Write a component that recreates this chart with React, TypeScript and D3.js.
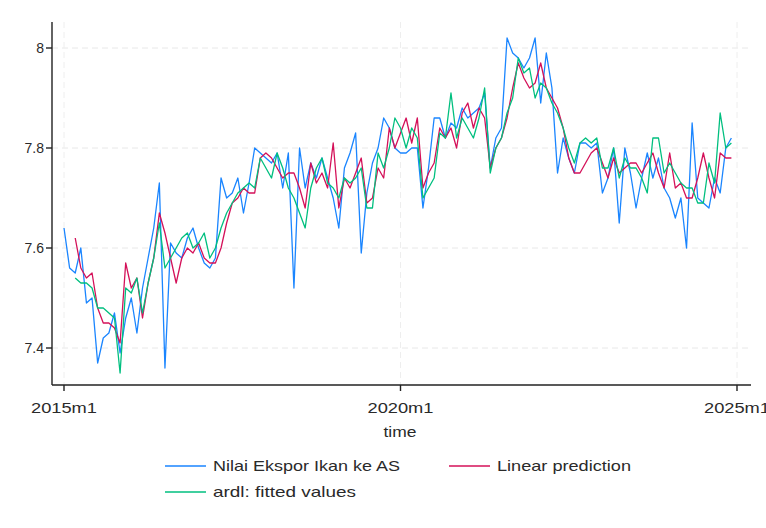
import React from "react";
import * as d3 from "d3";

const months = d3.range(0, 120);
const tickMonths = [0, 60, 120];
const tickLabels = ["2015m1", "2020m1", "2025m1"];
const yTicks = [7.4, 7.6, 7.8, 8];
const yTickLabels = ["7.4", "7.6", "7.8", "8"];

const ekspor = [
  7.64, 7.56, 7.55, 7.60, 7.49, 7.50, 7.37, 7.42, 7.43, 7.47,
  7.39, 7.46, 7.50, 7.43, 7.52, 7.58, 7.64, 7.73, 7.36, 7.61,
  7.59, 7.58, 7.62, 7.64, 7.60, 7.57, 7.56, 7.58, 7.74, 7.70,
  7.71, 7.74, 7.67, 7.73, 7.80, 7.79, 7.78, 7.77, 7.79, 7.72,
  7.79, 7.52, 7.80, 7.72, 7.77, 7.74, 7.78, 7.74, 7.70, 7.64,
  7.76, 7.79, 7.83, 7.59, 7.71, 7.77, 7.80, 7.86, 7.84, 7.80,
  7.79, 7.79, 7.80, 7.80, 7.68, 7.76, 7.86, 7.86, 7.82, 7.85,
  7.84, 7.88, 7.86, 7.87, 7.88, 7.91, 7.76, 7.82, 7.84, 8.02,
  7.99, 7.98, 7.96, 7.98, 8.02, 7.89, 7.99, 7.92, 7.75, 7.82,
  7.78, 7.75, 7.81, 7.81, 7.80, 7.81, 7.71, 7.74, 7.80, 7.65,
  7.80, 7.75, 7.68, 7.74, 7.79, 7.74, 7.78, 7.72, 7.70, 7.66,
  7.70, 7.60, 7.85, 7.70, 7.69, 7.68, 7.74, 7.71, 7.80, 7.82,
];

const linearPred = [
  null, null, 7.62, 7.56, 7.54, 7.55, 7.48, 7.45, 7.45, 7.44,
  7.41, 7.57, 7.52, 7.54, 7.46, 7.53, 7.58, 7.67, 7.63, 7.58,
  7.53, 7.58, 7.60, 7.59, 7.61, 7.58, 7.57, 7.57, 7.60, 7.65,
  7.69, 7.70, 7.72, 7.71, 7.71, 7.78, 7.79, 7.78, 7.76, 7.74,
  7.75, 7.75, 7.72, 7.68, 7.77, 7.73, 7.75, 7.72, 7.81, 7.68,
  7.74, 7.72, 7.75, 7.78, 7.69, 7.70, 7.76, 7.74, 7.84, 7.80,
  7.83, 7.86, 7.81, 7.86, 7.72, 7.75, 7.77, 7.84, 7.82, 7.84,
  7.80, 7.87, 7.89, 7.84, 7.88, 7.86, 7.76, 7.80, 7.82, 7.86,
  7.92, 7.97, 7.94, 7.92, 7.93, 7.97, 7.92, 7.90, 7.88, 7.84,
  7.78, 7.75, 7.75, 7.77, 7.79, 7.80, 7.77, 7.74, 7.78, 7.75,
  7.76, 7.77, 7.77, 7.75, 7.77, 7.79, 7.75, 7.72, 7.79, 7.72,
  7.73, 7.70, 7.70, 7.74, 7.79, 7.74, 7.70, 7.79, 7.78, 7.78,
];

const ardlFitted = [
  null, null, 7.54, 7.53, 7.53, 7.52, 7.48, 7.48, 7.47, 7.46,
  7.35, 7.52, 7.51, 7.54, 7.47, 7.53, 7.58, 7.65, 7.56, 7.58,
  7.60, 7.62, 7.63, 7.60, 7.61, 7.63, 7.58, 7.60, 7.64, 7.67,
  7.69, 7.71, 7.72, 7.73, 7.72, 7.78, 7.76, 7.74, 7.79, 7.76,
  7.72, 7.70, 7.67, 7.64, 7.72, 7.76, 7.78, 7.73, 7.72, 7.70,
  7.74, 7.73, 7.74, 7.76, 7.68, 7.68, 7.79, 7.76, 7.80, 7.86,
  7.84, 7.80, 7.84, 7.82, 7.70, 7.72, 7.74, 7.83, 7.82, 7.91,
  7.82, 7.86, 7.84, 7.82, 7.86, 7.92, 7.75, 7.80, 7.82, 7.87,
  7.90, 7.98, 7.95, 7.96, 7.90, 7.93, 7.92, 7.89, 7.87, 7.84,
  7.80, 7.77, 7.81, 7.82, 7.81, 7.82, 7.76, 7.76, 7.80, 7.74,
  7.78, 7.76, 7.76, 7.74, 7.71, 7.82, 7.82, 7.75, 7.77, 7.75,
  7.73, 7.72, 7.72, 7.69, 7.69, 7.77, 7.73, 7.87, 7.80, 7.81,
];

const seriesNames = ["Nilai Ekspor Ikan ke AS", "Linear prediction", "ardl: fitted values"];
const seriesColors = ["#1a85ff", "#d41159", "#00bf7f"];

const W = 766;
const H = 528;
const FONT = "'Liberation Sans', Arial, Helvetica, sans-serif";

export default function App() {
  const x = d3.scaleLinear().domain([0, 120]).range([64, 737]);
  const y = d3.scaleLinear().domain([7.4, 8]).range([348, 48]);
  const axisLeft = 52;
  const axisBottom = 385;
  const plotTop = 22;
  const plotRight = 751;

  const line = d3
    .line<number | null>()
    .defined((d) => d !== null)
    .x((_, i) => x(months[i]))
    .y((d) => y(d as number));

  const allSeries = [ekspor, linearPred, ardlFitted];

  const legendItems = [
    { lx: 165, ly: 466, tw: 187 },
    { lx: 449, ly: 466, tw: 134 },
    { lx: 165, ly: 492, tw: 143 },
  ];

  return (
    <div style={{ position: "absolute", left: 0, top: 0 }}>
      <svg width={W} height={H} style={{ display: "block", background: "#fff" }}>
        <rect x={0} y={0} width={W} height={H} fill="#fff" />
        {yTicks.map((t) => (
          <line
            key={"gy" + t}
            x1={axisLeft}
            x2={plotRight}
            y1={y(t)}
            y2={y(t)}
            stroke="#e8e8e8"
            strokeWidth={1}
            strokeDasharray="6,4"
          />
        ))}
        {tickMonths.map((t) => (
          <line
            key={"gx" + t}
            x1={x(t)}
            x2={x(t)}
            y1={plotTop}
            y2={axisBottom}
            stroke="#eeeeee"
            strokeWidth={1}
            strokeDasharray="6,4"
          />
        ))}
        {allSeries.map((s, k) => (
          <path
            key={"s" + k}
            d={line(s) || ""}
            fill="none"
            stroke={seriesColors[k]}
            strokeWidth={1.3}
            strokeLinejoin="round"
          />
        ))}
        <line x1={axisLeft} x2={axisLeft} y1={plotTop} y2={axisBottom} stroke="#222" strokeWidth={1.4} />
        <line x1={axisLeft} x2={plotRight} y1={axisBottom} y2={axisBottom} stroke="#222" strokeWidth={1.4} />
        {yTicks.map((t, i) => (
          <g key={"yt" + t}>
            <line x1={axisLeft - 6} x2={axisLeft} y1={y(t)} y2={y(t)} stroke="#222" strokeWidth={1.4} />
            <text
              x={axisLeft - 8}
              y={y(t) + 5}
              textAnchor="end"
              fontFamily={FONT}
              fontSize={14}
              fill="#2a2a2a"
            >
              {yTickLabels[i]}
            </text>
          </g>
        ))}
        {tickMonths.map((t, i) => (
          <g key={"xt" + t}>
            <line x1={x(t)} x2={x(t)} y1={axisBottom} y2={axisBottom + 6} stroke="#222" strokeWidth={1.4} />
            <text
              x={x(t)}
              y={axisBottom + 28}
              textAnchor="middle"
              fontFamily={FONT}
              fontSize={14.5}
              fill="#2a2a2a"
              textLength={66}
              lengthAdjust="spacingAndGlyphs"
            >
              {tickLabels[i]}
            </text>
          </g>
        ))}
        <text
          x={400}
          y={437}
          textAnchor="middle"
          fontFamily={FONT}
          fontSize={14.5}
          fill="#2a2a2a"
          textLength={33}
          lengthAdjust="spacingAndGlyphs"
        >
          time
        </text>
        {legendItems.map((it, k) => (
          <g key={"lg" + k}>
            <line x1={it.lx} x2={it.lx + 41} y1={it.ly} y2={it.ly} stroke={seriesColors[k]} strokeWidth={1.4} />
            <text
              x={it.lx + 48}
              y={it.ly + 5}
              fontFamily={FONT}
              fontSize={14.5}
              fill="#2a2a2a"
              textLength={it.tw}
              lengthAdjust="spacingAndGlyphs"
            >
              {seriesNames[k]}
            </text>
          </g>
        ))}
      </svg>
    </div>
  );
}
